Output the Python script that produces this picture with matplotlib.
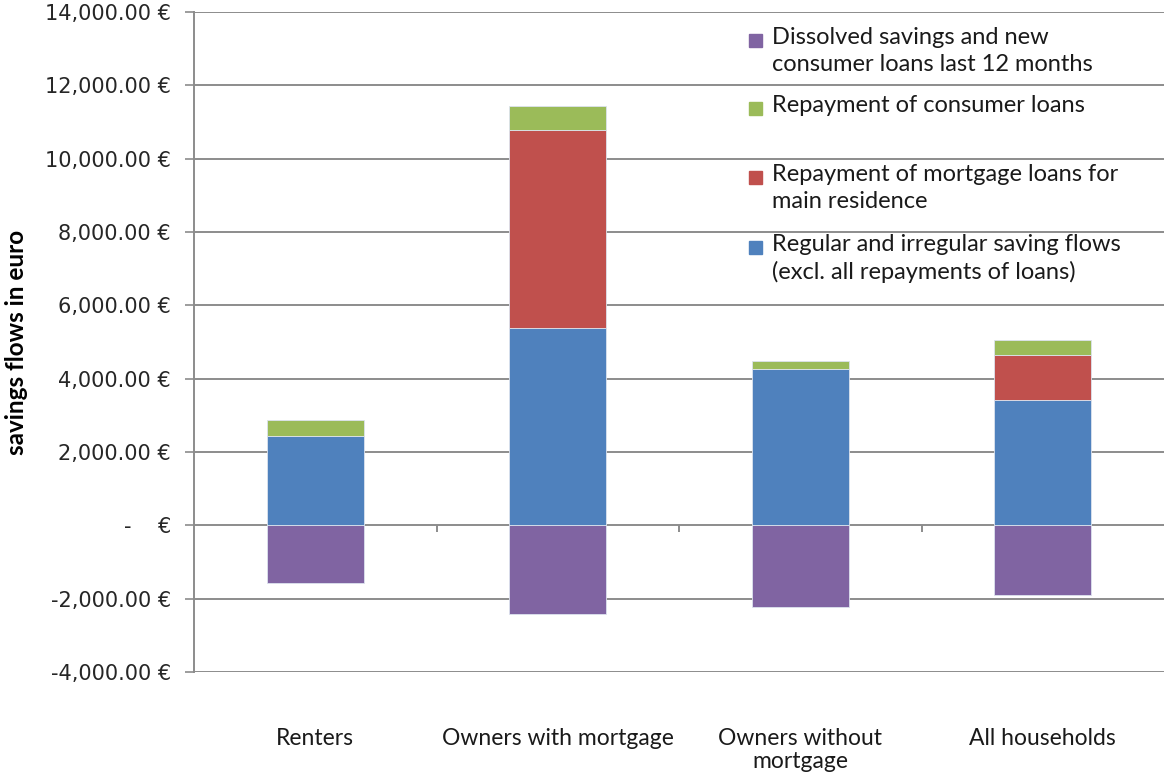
import matplotlib.pyplot as plt
from matplotlib.ticker import FuncFormatter
from matplotlib.patches import Rectangle
import numpy as np

# values (euro)
categories = ['Renters', 'Owners with mortgage', 'Owners without\nmortgage', 'All households']
saving_flows = [2440, 5390, 4260, 3430]
mortgage_repay = [0, 5390, 0, 1210]
consumer_repay = [440, 650, 210, 410]
dissolved = [-1560, -2410, -2240, -1900]

legend_labels = ['Dissolved savings and new\nconsumer loans last 12 months',
                 'Repayment of consumer loans',
                 'Repayment of mortgage loans for\nmain residence',
                 'Regular and irregular saving flows\n(excl. all repayments of loans)']

blue = '#4F81BD'
red = '#C0504D'
green = '#9BBB59'
purple = '#8064A2'
grid_col = '#8C8C8C'

lato = ['Lato', 'DejaVu Sans']


def euro_fmt(v, pos):
    if abs(v) < 1e-9:
        return '-    €'
    return '{:,.2f} €'.format(v)


fig = plt.figure(figsize=(11.64, 7.83), dpi=100)
ax = fig.add_axes([194 / 1164, 1 - 672 / 783, 970 / 1164, 660 / 783])

x = np.arange(len(categories))
w = 0.4
edge = dict(edgecolor='#DCE3EE', linewidth=0.6)
ax.bar(x, dissolved, w, color=purple, zorder=3, **edge)
ax.bar(x, saving_flows, w, color=blue, zorder=3, **edge)
ax.bar(x, mortgage_repay, w, bottom=saving_flows, color=red, zorder=3, **edge)
bottom2 = np.array(saving_flows) + np.array(mortgage_repay)
ax.bar(x, consumer_repay, w, bottom=bottom2, color=green, zorder=3, **edge)

ax.set_xlim(-0.5, len(categories) - 0.5)
ax.set_ylim(-4000, 14000)
ax.set_yticks(np.arange(-4000, 14001, 2000))
ax.yaxis.set_major_formatter(FuncFormatter(euro_fmt))
ax.yaxis.grid(True, color=grid_col, linewidth=1.4, zorder=0)
ax.set_axisbelow(True)

for s in ['top', 'right', 'bottom']:
    ax.spines[s].set_visible(False)
ax.spines['left'].set_color(grid_col)
ax.spines['left'].set_linewidth(1.4)
ax.tick_params(axis='y', length=6.5, width=1.2, color=grid_col, pad=10,
               labelsize=15, labelcolor='#262626')

# category separators on the zero line
ax.vlines(x[:-1] + 0.5, -190, 0, color=grid_col, linewidth=1.4, zorder=2)

ax.set_xticks(x)
ax.set_xticklabels(categories, family=lato, fontsize=16.5, color='#1a1a1a',
                   linespacing=1.15)
ax.tick_params(axis='x', length=0, pad=40)

ax.set_ylabel('savings flows in euro', family=lato, fontsize=17.5,
              fontweight='bold')
ax.yaxis.set_label_coords(-0.171, 0.5)

# legend drawn at the upper right like the original
leg_y = [40, 108, 177, 247]
cols = [purple, green, red, blue]
for lab, c, yy in zip(legend_labels, cols, leg_y):
    ya = 1 - (yy - 12) / 660
    ax.add_patch(Rectangle(((749 - 194) / 970, ya - 6.5 / 660), 13 / 970, 13 / 660,
                           transform=ax.transAxes, color=c, clip_on=False, zorder=5))
    ax.text((772 - 194) / 970, ya + 13 / 660, lab, transform=ax.transAxes,
            fontsize=17, va='top', ha='left', color='#1a1a1a', linespacing=1.33,
            family=lato, zorder=5)

fig.savefig('out.png', dpi=100)
